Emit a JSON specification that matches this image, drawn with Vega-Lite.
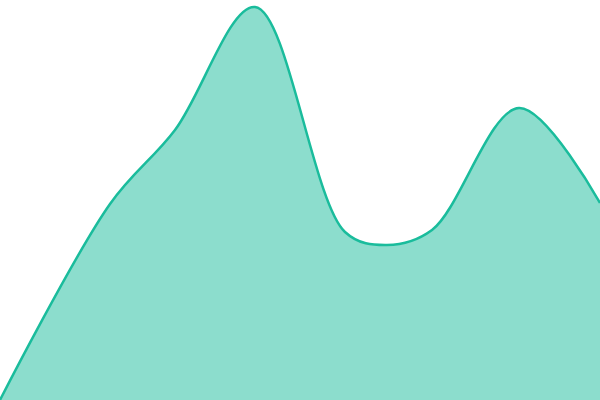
{
  "$schema": "https://vega.github.io/schema/vega-lite/v6.json",
  "background": "#fff",
  "width": 600,
  "height": 400,
  "padding": 0,
  "autosize": "none",
  "data": {
    "values": [
      {"x": 0, "y": 0},
      {"x": 110, "y": 196},
      {"x": 175, "y": 270},
      {"x": 255, "y": 393},
      {"x": 345, "y": 168},
      {"x": 387, "y": 155},
      {"x": 432, "y": 170},
      {"x": 519, "y": 292},
      {"x": 600, "y": 197}
    ]
  },
  "encoding": {
    "x": {"field": "x", "type": "quantitative", "axis": null, "scale": {"domain": [0, 600], "nice": false, "zero": false}},
    "y": {"field": "y", "type": "quantitative", "axis": null, "scale": {"domain": [0, 400], "nice": false}}
  },
  "layer": [
    {"mark": {"type": "area", "interpolate": "catmull-rom", "color": "#1abc9c", "opacity": 0.5}},
    {"mark": {"type": "line", "interpolate": "catmull-rom", "color": "#1abc9c", "strokeWidth": 2.5}}
  ],
  "config": {"view": {"stroke": null}}
}
